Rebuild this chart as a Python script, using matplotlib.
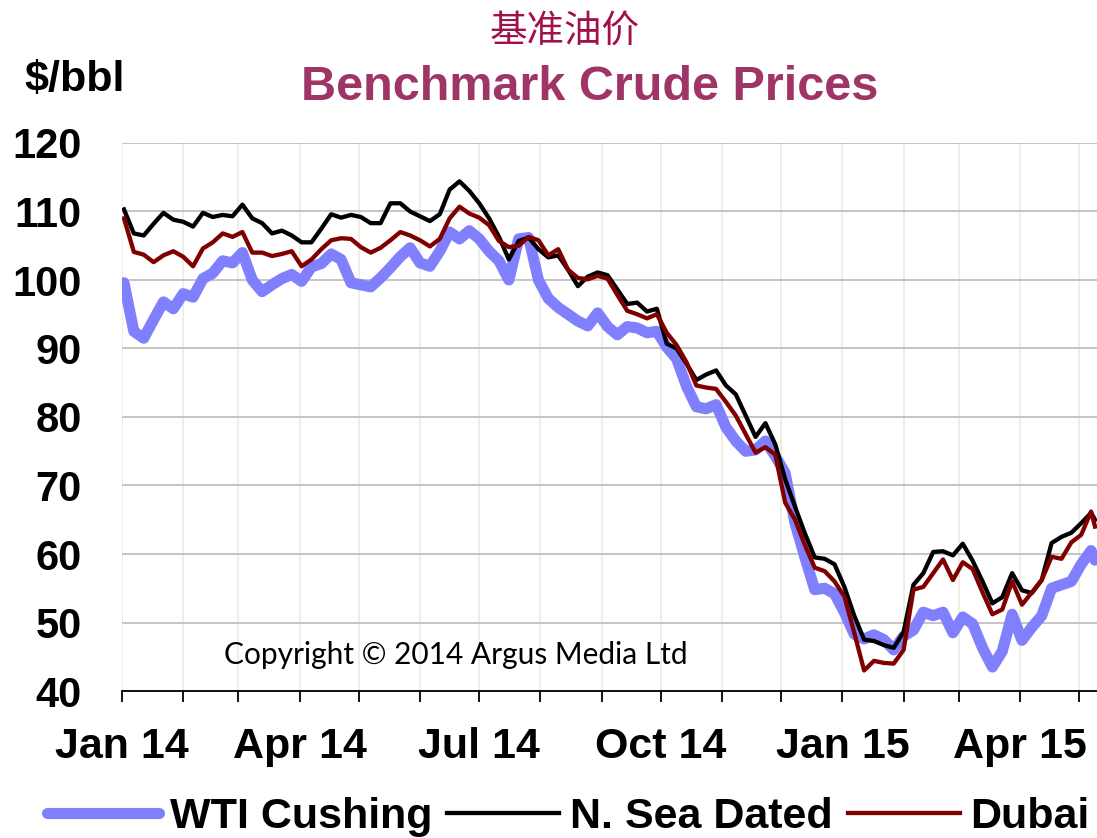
import matplotlib
matplotlib.use('Agg')
from matplotlib import pyplot as plt
from matplotlib import dates as mdates
import pandas as pd

# Prices, every 5 days from 2 Jan 2014 (+ last day)
dates = list(pd.date_range('2014-01-02', periods=99, freq='5D')) + [pd.Timestamp('2015-05-09')]

wti = [99.6, 92.5, 91.5, 94.2, 96.8, 95.8, 98.0, 97.5, 100.2, 101.0,
       102.8, 102.5, 104.0, 100.0, 98.3, 99.3, 100.2, 100.8, 99.8, 101.9,
       102.4, 103.8, 103.0, 99.6, 99.3, 99.0, 100.3, 101.8, 103.4, 104.7,
       102.5, 102.0, 104.2, 107.0, 106.0, 107.2, 106.0, 104.2, 102.8, 100.0,
       106.0, 106.2, 100.0, 97.3, 96.0, 95.0, 94.0, 93.3, 95.2, 93.2,
       92.0, 93.2, 93.0, 92.3, 92.5, 90.2, 88.5, 84.5, 81.5, 81.2,
       81.8, 78.5, 76.5, 75.0, 75.2, 76.5, 74.3, 71.8, 64.5, 59.5,
       54.8, 55.0, 54.2, 51.5, 48.3, 47.6, 48.2, 47.5, 46.0, 48.0,
       48.9, 51.5, 51.0, 51.5, 48.5, 50.8, 49.8, 46.3, 43.5, 45.8,
       51.2, 47.4, 49.3, 51.0, 55.0, 55.5, 56.0, 58.5, 60.5, 59.1]

nsea = [110.3, 106.8, 106.5, 108.2, 109.8, 108.8, 108.5, 107.8, 109.8, 109.2,
        109.5, 109.3, 111.0, 109.0, 108.3, 106.8, 107.2, 106.5, 105.5, 105.5,
        107.5, 109.6, 109.1, 109.5, 109.2, 108.3, 108.3, 111.2, 111.2, 110.0,
        109.3, 108.6, 109.6, 113.2, 114.4, 113.0, 111.2, 109.0, 106.3, 103.0,
        105.7, 106.2, 104.5, 103.3, 103.6, 101.5, 99.1, 100.5, 101.1, 100.7,
        98.6, 96.5, 96.7, 95.4, 95.8, 90.7, 90.0, 87.8, 85.4, 86.2,
        86.8, 84.6, 83.3, 80.2, 77.1, 79.1, 76.0, 70.9, 66.9, 63.0,
        59.5, 59.3, 58.5, 55.2, 51.0, 47.5, 47.3, 46.7, 46.3, 48.6,
        55.5, 57.2, 60.3, 60.4, 59.8, 61.5, 59.0, 56.0, 52.8, 53.7,
        57.2, 54.7, 54.3, 56.2, 61.6, 62.5, 63.1, 64.5, 66.0, 65.0]

dubai = [109.0, 104.1, 103.7, 102.6, 103.6, 104.2, 103.4, 102.0, 104.6, 105.5,
         106.8, 106.3, 107.0, 104.0, 104.0, 103.5, 103.8, 104.2, 102.0, 103.0,
         104.5, 105.8, 106.1, 106.0, 104.8, 104.0, 104.7, 105.8, 107.0, 106.5,
         105.8, 104.9, 106.0, 109.0, 110.7, 109.7, 109.1, 108.0, 105.7, 104.8,
         105.0, 106.3, 105.8, 103.6, 104.5, 101.5, 100.3, 100.1, 100.6, 100.2,
         97.8, 95.5, 95.0, 94.4, 95.0, 92.3, 90.5, 88.0, 84.6, 84.3,
         84.1, 82.2, 80.2, 77.5, 74.8, 75.6, 74.5, 67.5, 65.0, 61.3,
         58.0, 57.5, 56.0, 53.8, 48.5, 43.0, 44.4, 44.1, 44.0, 46.0,
         54.8, 55.2, 57.2, 59.2, 56.2, 58.8, 57.8, 54.4, 51.2, 51.9,
         56.0, 52.6, 54.4, 56.2, 59.6, 59.3, 61.7, 62.8, 66.2, 64.0]

labels = ['WTI Cushing', 'N. Sea Dated', 'Dubai']
colours = ['#8080FF', '#000000', '#800000']
y_ticks = [40, 50, 60, 70, 80, 90, 100, 110, 120]

plt.rcParams['font.family'] = ['Liberation Sans', 'DejaVu Sans']

fig = plt.figure(figsize=(10.97, 8.38), dpi=100)
ax = fig.add_axes([122 / 1097, 147 / 838, 975 / 1097, 548 / 838])

ax.plot(dates, wti, color=colours[0], lw=8, solid_capstyle='round',
        solid_joinstyle='round', label=labels[0], zorder=3)
ax.plot(dates, nsea, color=colours[1], lw=3.1, solid_joinstyle='round',
        label=labels[1], zorder=4)
ax.plot(dates, dubai, color=colours[2], lw=3.1, solid_joinstyle='round',
        label=labels[2], zorder=5)

ax.set_xlim(pd.Timestamp('2014-01-01'), pd.Timestamp('2015-05-10'))
ax.set_ylim(40, 120)
ax.set_yticks(y_ticks)

ax.xaxis.set_major_locator(mdates.MonthLocator(bymonth=[1, 4, 7, 10]))
ax.xaxis.set_minor_locator(mdates.MonthLocator())
ax.xaxis.set_major_formatter(mdates.DateFormatter('%b %y'))

ax.spines["top"].set_visible(False)
ax.spines["right"].set_visible(False)
ax.spines["left"].set_visible(False)
ax.spines["bottom"].set_linewidth(1.3)

ax.grid(True, axis='y', color='#C0C0C0', lw=1.3, zorder=0)
ax.grid(True, axis='x', which='both', color='#EDEDE0', lw=1.3, zorder=0)
ax.set_axisbelow(True)

ax.tick_params(axis='y', length=0, pad=29, labelsize=30)
ax.tick_params(axis='x', which='both', length=8, width=1.3, direction='out',
               pad=18, labelsize=31)
for t in ax.get_xticklabels() + ax.get_yticklabels():
    t.set_fontweight('bold')

fig.text(565 / 1097, 1 - 31 / 838, '基准油价', color='#A0104A', fontsize=27,
         ha='center', va='center', family=['Noto Sans CJK SC', 'DejaVu Sans'])
fig.text(590 / 1097, 1 - 88 / 838, 'Benchmark Crude Prices', color='#9E3566',
         fontsize=35, fontweight='bold', ha='center', va='center')
fig.text(75 / 1097, 1 - 80 / 838, '$/bbl', color='black', fontsize=31,
         fontweight='bold', ha='center', va='center')
ax.text(456 / 1097, 1 - 655 / 838, 'Copyright © 2014 Argus Media Ltd',
        transform=fig.transFigure, fontsize=21.5, family='Lato',
        ha='center', va='center', zorder=6)

fig.legend(loc='center', bbox_to_anchor=(0.518, 0.025), ncol=3, frameon=False,
           prop={'size': 31, 'weight': 'bold'}, handlelength=2.6,
           handletextpad=0.25, columnspacing=0.35, borderpad=0)

plt.savefig('out.png', dpi=100)
plt.close()
